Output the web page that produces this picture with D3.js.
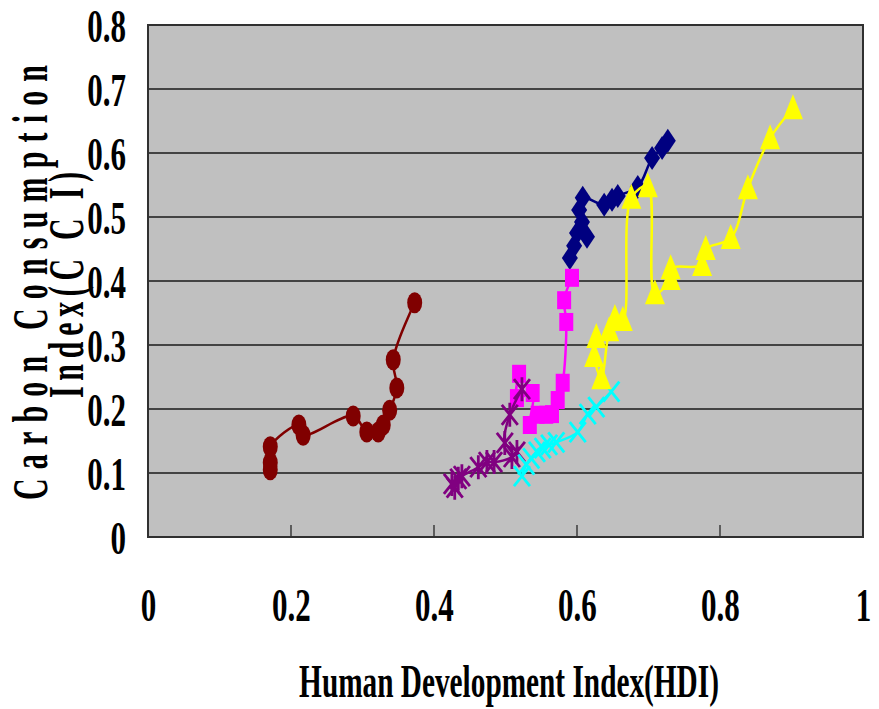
<!DOCTYPE html>
<html><head><meta charset="utf-8">
<script src="https://cdn.jsdelivr.net/npm/d3@7"></script>
<style>html,body{margin:0;padding:0;background:#fff;}svg{display:block;}</style>
</head><body>
<svg id="chart" width="879" height="709"></svg>
<script>
// ---- data (HDI, CCI) ----
const seriesBrown = [[0.171,0.105],[0.171,0.116],[0.171,0.141],[0.211,0.175],[0.217,0.159],[0.287,0.189],[0.306,0.164],[0.322,0.164],[0.329,0.175],[0.338,0.198],[0.348,0.233],[0.343,0.277],[0.373,0.366]];
const seriesNavy = [[0.590,0.436],[0.596,0.455],[0.600,0.475],[0.614,0.469],[0.607,0.492],[0.603,0.511],[0.608,0.530],[0.638,0.519],[0.649,0.527],[0.657,0.533],[0.685,0.547],[0.705,0.592],[0.719,0.608],[0.727,0.619]];
const seriesMagenta = [[0.519,0.255],[0.516,0.217],[0.538,0.225],[0.534,0.175],[0.545,0.191],[0.557,0.191],[0.565,0.192],[0.573,0.214],[0.580,0.241],[0.585,0.336],[0.582,0.370],[0.593,0.405]];
const seriesPurple = [[0.425,0.083],[0.429,0.077],[0.434,0.091],[0.439,0.095],[0.462,0.109],[0.474,0.117],[0.484,0.117],[0.509,0.125],[0.516,0.133],[0.499,0.147],[0.506,0.191],[0.523,0.231]];
const seriesCyan = [[0.523,0.095],[0.529,0.113],[0.536,0.123],[0.544,0.133],[0.552,0.139],[0.561,0.144],[0.571,0.148],[0.601,0.164],[0.615,0.192],[0.627,0.203],[0.648,0.227]];
const seriesYellow = [[0.627,0.3125],[0.624,0.283],[0.634,0.248],[0.645,0.323],[0.653,0.342],[0.664,0.339],[0.676,0.530],[0.699,0.548],[0.709,0.381],[0.731,0.403],[0.731,0.420],[0.775,0.425],[0.780,0.450],[0.815,0.467],[0.839,0.545],[0.870,0.623],[0.902,0.670]];
const xTicks = [0,0.2,0.4,0.6,0.8,1];
const yTicks = [0,0.1,0.2,0.3,0.4,0.5,0.6,0.7,0.8];
const xTitle = "Human Development Index(HDI)";
const yTitle1 = "Carbon Consumption";
const yTitle2 = "Index(C C I)";

const svg = d3.select("#chart");
const X0=148, X1=863, Y0=537, Y1=25;
const x = d3.scaleLinear().domain([0,1]).range([X0,X1]);
const y = d3.scaleLinear().domain([0,0.8]).range([Y0,Y1]);
const FONT = "'Liberation Serif','Times New Roman',serif";

// plot background
svg.append("rect").attr("x",X0).attr("y",Y1).attr("width",X1-X0).attr("height",Y0-Y1)
  .attr("fill","#C0C0C0");
// gridlines
svg.append("g").selectAll("line").data(yTicks.filter(d=>d>0 && d<0.8)).join("line")
  .attr("x1",X0).attr("x2",X1).attr("y1",d=>y(d)).attr("y2",d=>y(d))
  .attr("stroke","#1a1a1a").attr("stroke-width",1.6);
// x tick marks inside
svg.append("g").selectAll("line").data(xTicks.filter(d=>d>0&&d<1)).join("line")
  .attr("x1",d=>x(d)).attr("x2",d=>x(d)).attr("y1",Y0-12).attr("y2",Y0)
  .attr("stroke","#1a1a1a").attr("stroke-width",1.2);
// border
svg.append("rect").attr("x",X0).attr("y",Y1).attr("width",X1-X0).attr("height",Y0-Y1)
  .attr("fill","none").attr("stroke","#303030").attr("stroke-width",2);

// axes labels via d3 axes
const yAxis = svg.append("g").attr("transform",`translate(126,0)`)
  .call(d3.axisLeft(y).tickValues(yTicks).tickSize(0).tickPadding(0)
    .tickFormat(d=> d===0 ? "0" : d3.format(".1f")(d)));
yAxis.select(".domain").remove();
yAxis.selectAll("text").attr("x",0).attr("dy",null).attr("y",16)
  .attr("transform","scale(0.66,1)")
  .style("font-family",FONT).style("font-weight","bold").style("font-size","47px")
  .attr("fill","#000").attr("text-anchor","end");

const xAxis = svg.append("g").attr("transform",`translate(0,${Y0})`)
  .call(d3.axisBottom(x).tickValues(xTicks).tickSize(0).tickPadding(0)
    .tickFormat(d=> (d===0||d===1) ? String(d) : d3.format(".1f")(d)));
xAxis.select(".domain").remove();
xAxis.selectAll("text").attr("x",0).attr("y",84).attr("dy",null)
  .attr("transform","scale(0.66,1)")
  .style("font-family",FONT).style("font-weight","bold").style("font-size","47px")
  .attr("fill","#000").attr("text-anchor","middle");

// titles
svg.append("text")
  .attr("transform","translate(509,697) scale(0.637,1)")
  .attr("text-anchor","middle")
  .style("font-family",FONT).style("font-weight","bold").style("font-size","46px")
  .text(xTitle);

svg.append("text")
  .attr("transform","translate(47,500) rotate(-90) scale(0.6,1)")
  .attr("textLength",435/0.6).attr("lengthAdjust","spacing")
  .style("font-family",FONT).style("font-weight","bold").style("font-size","50px")
  .text(yTitle1);
svg.append("text")
  .attr("transform","translate(83,398) rotate(-90) scale(0.6,1)")
  .attr("textLength",226/0.6).attr("lengthAdjust","spacing")
  .style("font-family",FONT).style("font-weight","bold").style("font-size","50px")
  .text(yTitle2);

// series
const line = d3.line().x(d=>x(d[0])).y(d=>y(d[1])).curve(d3.curveCatmullRom.alpha(0.5));
function drawLine(data,color){
  svg.append("path").attr("d",line(data)).attr("fill","none")
    .attr("stroke",color).attr("stroke-width",2.5).attr("stroke-linejoin","round");
}
const markers = {
  ellipse: (g,c)=> g.append("ellipse").attr("rx",7.5).attr("ry",10.5).attr("fill",c),
  diamond: (g,c)=> g.append("path").attr("d","M0,-12L8,0L0,12L-8,0Z").attr("fill",c),
  square: (g,c)=> g.append("rect").attr("x",-7).attr("y",-9).attr("width",14).attr("height",18).attr("fill",c),
  triangle: (g,c)=> g.append("path").attr("d","M0,-14L10,11L-10,11Z").attr("fill",c),
  cross: (g,c)=> g.append("path").attr("d","M-8,-10L8,10M8,-10L-8,10").attr("stroke",c).attr("stroke-width",2.8).attr("fill","none"),
  star: (g,c)=> g.append("path").attr("d","M-8,-10L8,10M8,-10L-8,10M0,-12L0,12").attr("stroke",c).attr("stroke-width",2.8).attr("fill","none")
};
function drawSeries(data,color,type){
  drawLine(data,color);
  svg.append("g").selectAll("g").data(data).join("g")
    .attr("transform",d=>`translate(${x(d[0])},${y(d[1])})`)
    .each(function(){ markers[type](d3.select(this),color); });
}
drawSeries(seriesBrown,"#800000","ellipse");
drawSeries(seriesNavy,"#000080","diamond");
drawSeries(seriesMagenta,"#FF00FF","square");
drawSeries(seriesPurple,"#800080","star");
drawSeries(seriesCyan,"#00FFFF","cross");
drawSeries(seriesYellow,"#FFFF00","triangle");
</script>
</body></html>
